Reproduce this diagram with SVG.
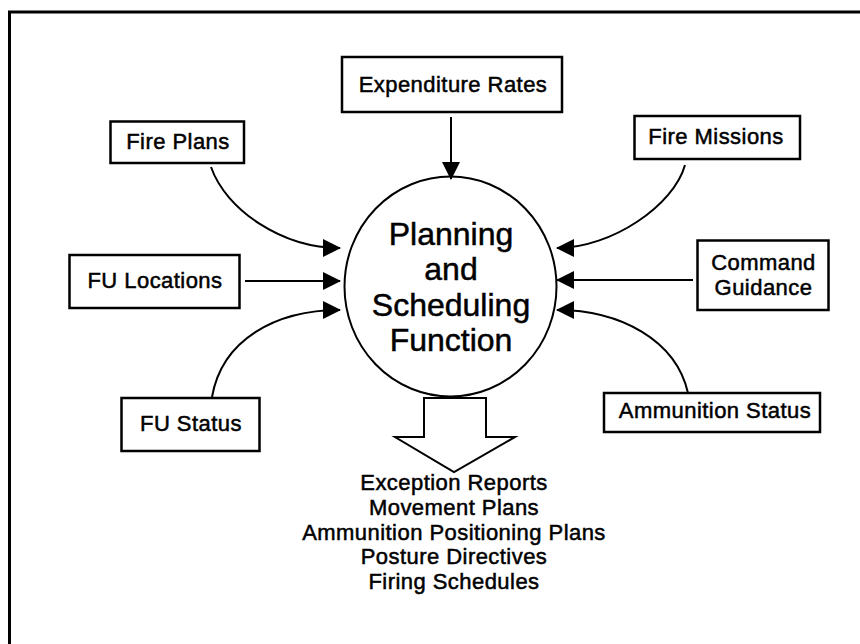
<svg xmlns="http://www.w3.org/2000/svg" width="860" height="644" viewBox="0 0 860 644">
  <style>
    .box { fill: #fff; stroke: #000; stroke-width: 2.5; }
    .lbl { font-family: "Liberation Sans", Arial, sans-serif; font-size: 22px; letter-spacing: 0.45px; text-anchor: middle; fill: #000; stroke: #000; stroke-width: 0.5; }
    .big { font-family: "Liberation Sans", Arial, sans-serif; font-size: 32px; text-anchor: middle; fill: #000; stroke: #000; stroke-width: 0.5; }
    .conn { fill: none; stroke: #000; stroke-width: 2; marker-end: url(#ah); }
  </style>
  <defs>
    <marker id="ah" markerUnits="userSpaceOnUse" markerWidth="18" markerHeight="18" viewBox="0 0 18 18" refX="17" refY="9" orient="auto">
      <path d="M0,0 L18,9 L0,18 z" fill="#000"/>
    </marker>
  </defs>
  <rect width="860" height="644" fill="#fff"/>
  <g id="frame">
    <path d="M9.5,644 L9.5,12 L860,12" fill="none" stroke="#000" stroke-width="3"/>
  </g>
  <g id="connectors">
    <path class="conn" d="M451,117 L451,179"/>
    <path class="conn" d="M211,167 C226,210 282,248 340,248"/>
    <path class="conn" d="M245,281 L340,281"/>
    <path class="conn" d="M212,397 C222,340 275,310 340,310"/>
    <path class="conn" d="M685,165 C674,205 612,248 557,248"/>
    <path class="conn" d="M693,280 L557,280"/>
    <path class="conn" d="M688,393 C676,340 620,310 557,310"/>
    <polygon points="424,398 486,398 486,437 515,437 454,472 395,437 424,437" fill="#fff" stroke="#000" stroke-width="2"/>
  </g>
  <g id="planning">
    <ellipse cx="450.5" cy="286.5" rx="106" ry="110" fill="none" stroke="#000" stroke-width="2"/>
    <text class="big" x="451" y="245">Planning</text>
    <text class="big" x="451" y="280">and</text>
    <text class="big" x="451" y="315.5">Scheduling</text>
    <text class="big" x="451" y="351">Function</text>
  </g>
  <g id="expenditure-rates">
    <rect class="box" x="342" y="57" width="220" height="55"/>
    <text class="lbl" x="453" y="91.5">Expenditure Rates</text>
  </g>
  <g id="fire-plans">
    <rect class="box" x="110.5" y="121.5" width="133.5" height="41.5"/>
    <text class="lbl" x="178" y="148.5">Fire Plans</text>
  </g>
  <g id="fire-missions">
    <rect class="box" x="634.5" y="116" width="165.5" height="43"/>
    <text class="lbl" x="716" y="144">Fire Missions</text>
  </g>
  <g id="fu-locations">
    <rect class="box" x="69.5" y="255" width="170" height="53"/>
    <text class="lbl" x="155" y="287.5">FU Locations</text>
  </g>
  <g id="command-guidance">
    <rect class="box" x="697.5" y="240.5" width="131" height="69.5"/>
    <text class="lbl" x="763.5" y="269.5">Command</text>
    <text class="lbl" x="763.5" y="294.5">Guidance</text>
  </g>
  <g id="fu-status">
    <rect class="box" x="121.5" y="398" width="138" height="53"/>
    <text class="lbl" x="191" y="430.5">FU Status</text>
  </g>
  <g id="ammunition-status">
    <rect class="box" x="604" y="393" width="216" height="39"/>
    <text class="lbl" x="715" y="417.5">Ammunition Status</text>
  </g>
  <g id="outputs">
    <text class="lbl" x="454" y="489.5">Exception Reports</text>
    <text class="lbl" x="454" y="514.5">Movement Plans</text>
    <text class="lbl" x="454" y="539.5">Ammunition Positioning Plans</text>
    <text class="lbl" x="454" y="564">Posture Directives</text>
    <text class="lbl" x="454" y="588.5">Firing Schedules</text>
  </g>
</svg>
